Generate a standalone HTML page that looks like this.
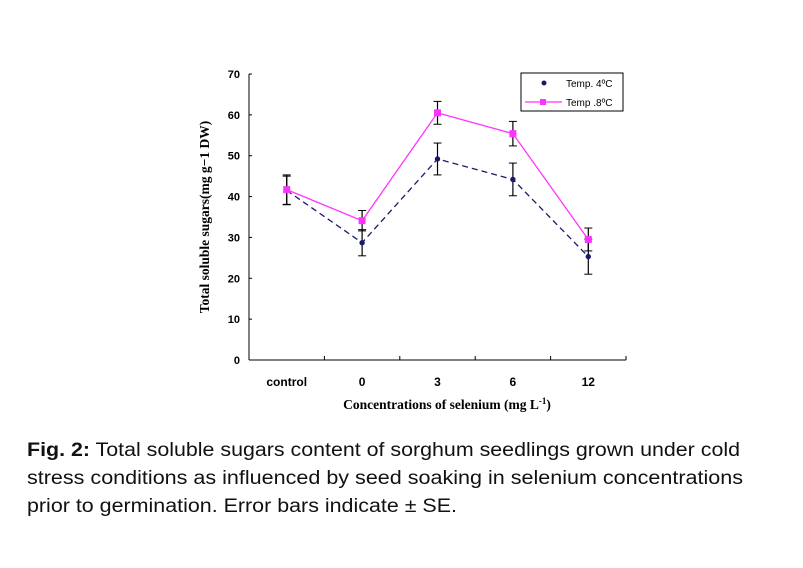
<!DOCTYPE html>
<html><head><meta charset="utf-8"><style>
html,body{margin:0;padding:0;background:#fff;}
svg{display:block;}
</style></head><body>
<svg id="chart" width="803" height="568" viewBox="0 0 803 568" xmlns="http://www.w3.org/2000/svg" font-family="Liberation Sans, Arial, sans-serif">
<rect width="803" height="568" fill="#fff"/>
<g id="plot"></g>
<g font-size="19" fill="#111">
<text x="27" y="456" textLength="713" lengthAdjust="spacingAndGlyphs"><tspan font-weight="bold">Fig. 2:</tspan> Total soluble sugars content of sorghum seedlings grown under cold</text>
<text x="27" y="484" textLength="716" lengthAdjust="spacingAndGlyphs">stress conditions as influenced by seed soaking in selenium concentrations</text>
<text x="27" y="512" textLength="430" lengthAdjust="spacingAndGlyphs">prior to germination. Error bars indicate ± SE.</text>
</g>
</svg>
<script>
const categories = ["control","0","3","6","12"];
const temp4 = [41.5, 28.7, 49.2, 44.2, 25.3];
const temp4Err = [3.5, 3.2, 3.9, 4.0, 4.3];
const temp8 = [41.7, 34.1, 60.5, 55.4, 29.5];
const temp8Err = [3.6, 2.5, 2.8, 3.0, 2.8];
const yTicks = [0,10,20,30,40,50,60,70];

const NS="http://www.w3.org/2000/svg";
const g=document.getElementById('plot');
const X0=249,X1=626,Y0=360,Y1=74,YMAX=70;
const bw=(X1-X0)/categories.length;
const xs=i=>X0+bw*(i+0.5);
const ys=v=>Y0-(v/YMAX)*(Y0-Y1);
function mk(tag,attrs,parent){const e=document.createElementNS(NS,tag);for(const k in attrs)e.setAttribute(k,attrs[k]);(parent||g).appendChild(e);return e;}

let e=mk('line',{x1:X0,y1:Y1,x2:X0,y2:Y0,stroke:'#000','stroke-width':1});


e=mk('line',{x1:X0,y1:Y0,x2:X1,y2:Y0,stroke:'#000','stroke-width':1});


yTicks.forEach(t=>{
  mk('line',{x1:X0,y1:ys(t),x2:X0+3,y2:ys(t),stroke:'#000'});
  const tx=mk('text',{x:X0-9,y:ys(t)+4,'font-size':11,'font-weight':'bold','text-anchor':'end'});
  tx.textContent=t;
  
  
});
for(let i=1;i<=categories.length;i++){mk('line',{x1:X0+bw*i,y1:Y0,x2:X0+bw*i,y2:Y0-4,stroke:'#000'});}
categories.forEach((c,i)=>{
  const tx=mk('text',{x:xs(i),y:386,'font-size':12,'font-weight':'bold','text-anchor':'middle'});
  tx.textContent=c;
  
  
});
let t=mk('text',{x:447,y:409,'font-size':13.5,'font-weight':'bold','text-anchor':'middle','font-family':'Liberation Serif, serif'});
t.innerHTML='Concentrations of selenium (mg L<tspan baseline-shift="super" font-size="9">-1</tspan>)';


t=mk('text',{x:0,y:0,'font-size':13.5,'font-weight':'bold','text-anchor':'middle','font-family':'Liberation Serif, serif',transform:'translate(209,217) rotate(-90)'});
t.textContent='Total soluble sugars(mg g−1 DW)';



function series(vals,errs,color,dash,name,square){
  const pts=vals.map((v,i)=>xs(i)+','+ys(v)).join(' ');
  const pl=mk('polyline',{points:pts,fill:'none',stroke:color,'stroke-width':1.3,'stroke-dasharray':dash});
  
  
  vals.forEach((v,i)=>{
    const x=xs(i);
    const eb=mk('line',{x1:x,y1:ys(v-errs[i]),x2:x,y2:ys(v+errs[i]),stroke:'#000','stroke-width':1.2});
    
    
    mk('line',{x1:x-4,y1:ys(v-errs[i]),x2:x+4,y2:ys(v-errs[i]),stroke:'#000'});
    mk('line',{x1:x-4,y1:ys(v+errs[i]),x2:x+4,y2:ys(v+errs[i]),stroke:'#000'});
  });
  vals.forEach((v,i)=>{
    const m=square?mk('rect',{x:xs(i)-3.5,y:ys(v)-3.5,width:7,height:7,fill:color}):mk('circle',{cx:xs(i),cy:ys(v),r:2.7,fill:color});
    
    
  });
}
series(temp4,temp4Err,'#1a1a6a','6,4','temp-4c',false);
series(temp8,temp8Err,'#ff33ff','none','temp-8c',true);

const lg=mk('g',{});


mk('rect',{x:521,y:73,width:102,height:38,fill:'#fff',stroke:'#000','stroke-width':1},lg);
mk('circle',{cx:544,cy:83,r:2.5,fill:'#1a1a6a'},lg);
let lt=mk('text',{x:566,y:87,'font-size':10},lg);lt.textContent='Temp. 4ºC';


mk('line',{x1:525,y1:102,x2:562,y2:102,stroke:'#ff33ff','stroke-width':1.3},lg);
mk('rect',{x:540,y:99,width:6,height:6,fill:'#ff33ff'},lg);
lt=mk('text',{x:566,y:106,'font-size':10},lg);lt.textContent='Temp .8ºC';


</script>
</body></html>
